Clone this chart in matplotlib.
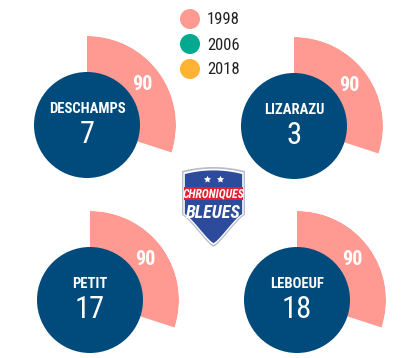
import numpy as np
import matplotlib.pyplot as plt
from matplotlib.patches import Circle, Polygon, Rectangle

players = ["DESCHAMPS", "LIZARAZU", "PETIT", "LEBOEUF"]
numbers = [7, 3, 17, 18]
years = ["1998", "2006", "2018"]
minutes_1998 = [90, 90, 90, 90]
minutes_2006 = [0, 0, 0, 0]
minutes_2018 = [0, 0, 0, 0]
year_colors = ["#FF9A92", "#00A98F", "#FFB234"]
max_minutes = 300

W, H = 420, 358
centers = [(87, 125), (294, 126), (90, 300), (297, 300)]
R_OUT = 89
R_IN = 53
BLUE = "#004B7C"

plt.rcParams["font.family"] = ["Roboto Condensed", "Liberation Sans Narrow",
                               "DejaVu Sans"]

fig = plt.figure(figsize=(W / 100, H / 100), dpi=100)

bg = fig.add_axes([0, 0, 1, 1])
bg.set_xlim(0, W)
bg.set_ylim(H, 0)
bg.axis("off")

# legend
for i, (year, color) in enumerate(zip(years, year_colors)):
    y = 19 + 25 * i
    bg.add_patch(Circle((190, y), 10, color=color, lw=0))
    bg.text(207, y + 1, year, fontsize=12, color="#222222", va="center", ha="left")

minutes = [minutes_1998, minutes_2006, minutes_2018]

for p, name in enumerate(players):
    cx, cy = centers[p]
    ax = fig.add_axes([(cx - R_OUT) / W, 1 - (cy + R_OUT) / H,
                       2 * R_OUT / W, 2 * R_OUT / H], projection="polar")
    ax.set_theta_zero_location("N")
    ax.set_theta_direction(-1)
    ax.set_ylim(0, 1)
    ax.axis("off")

    start = 0.0
    for y_idx, color in enumerate(year_colors):
        m = minutes[y_idx][p]
        if m <= 0:
            continue
        width = m / max_minutes * 2 * np.pi
        ax.bar(start + width / 2, 1, width=width, bottom=0, color=color,
               lw=0, zorder=1)
        ax.text(start + width / 2, 0.77, str(m), color="white", fontsize=14.5,
                fontweight="bold", ha="center", va="center", zorder=3)
        start += width

    ax.add_patch(Circle((0.5, 0.5), R_IN / (2 * R_OUT), transform=ax.transAxes,
                        color=BLUE, lw=0, zorder=2))
    ax.text(0.5, 0.59, name, transform=ax.transAxes, color="white",
            fontsize=10.5, fontweight="bold", ha="center", va="center", zorder=3)
    ax.text(0.5, 0.445, str(numbers[p]), transform=ax.transAxes, color="white",
            fontsize=22, ha="center", va="center", zorder=3)

# logo
lg = fig.add_axes([0, 0, 1, 1])
lg.set_xlim(0, W)
lg.set_ylim(H, 0)
lg.axis("off")


def shield(scale):
    cx, top, mid, bot, half = 213.5, 171, 215, 247, 31.5
    xs = np.linspace(-1, 1, 30)
    top_pts = [(cx + half * t, top - 4 * (1 - t ** 2)) for t in xs]
    t = np.linspace(0, 1, 20)
    right = [(cx + half * (1 - s) ** 0.8, mid + (bot - mid) * s ** 1.3) for s in t]
    left = [(cx - half * s ** 0.8, mid + (bot - mid) * (1 - s) ** 1.3) for s in t]
    pts = np.array(top_pts + [(cx + half, mid)] + right + left + [(cx - half, mid)])
    c = np.array([cx, 205])
    return c + (pts - c) * scale


lg.add_patch(Polygon(shield(1.0), closed=True, color="#B9BDC9", lw=0))
lg.add_patch(Polygon(shield(0.955), closed=True, color="white", lw=0))
lg.add_patch(Polygon(shield(0.91), closed=True, color="#2C4B9C", lw=0))
lg.add_patch(Rectangle((184, 187), 59, 13, color="#E21F2D", lw=0))
lg.scatter([207, 220], [179, 179], marker=(5, 1), s=28, color="white", lw=0)
lg.text(213.5, 193.5, "CHRONIQUES", color="white", fontsize=8.5, fontweight="bold",
        style="italic", ha="center", va="center")
lg.text(213.5, 213, "BLEUES", color="white", fontsize=13, fontweight="bold",
        style="italic", ha="center", va="center")

fig.savefig("out.png", dpi=100)
